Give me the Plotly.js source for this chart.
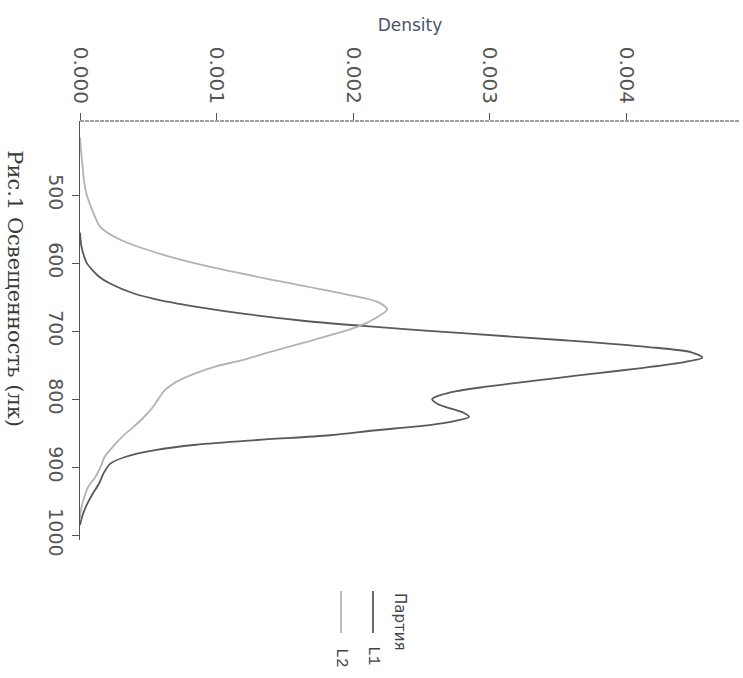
<!DOCTYPE html>
<html>
<head>
<meta charset="utf-8">
<script src="https://cdn.plot.ly/plotly-3.0.1.min.js"></script>
<style>html,body{margin:0;padding:0;background:#fff;}#chart{width:743px;height:678px;}</style>
</head>
<body>
<div id="chart"></div>
<script>
// Illuminance (lux) and density for batch L1
const luxL1 = [555, 575, 590, 600, 610, 620, 630, 645, 655, 665, 675, 685, 693, 703, 713, 723, 731, 739, 747, 755, 762, 769, 776, 782, 788, 794, 800, 807, 814, 820, 826, 832, 838, 846, 853, 860, 867, 875, 885, 895, 910, 924, 940, 955, 970, 985];
const densL1 = [0, 0.00001, 0.00003, 0.00005, 0.00009, 0.00014, 0.00022, 0.00040, 0.00060, 0.00088, 0.00122, 0.00165, 0.00212, 0.00280, 0.00352, 0.00415, 0.00448, 0.00456, 0.00438, 0.00408, 0.00378, 0.00349, 0.00320, 0.00296, 0.00276, 0.00264, 0.00258, 0.00262, 0.00272, 0.00281, 0.00285, 0.00275, 0.00256, 0.00215, 0.00183, 0.00130, 0.00085, 0.00055, 0.00033, 0.00022, 0.00017, 0.00014, 0.00009, 0.00005, 0.00002, 0];
// Illuminance (lux) and density for batch L2
const luxL2 = [415, 440, 460, 480, 500, 522, 541, 549, 566, 586, 603, 625, 645, 657, 668, 679, 693, 713, 733, 743, 752, 772, 787, 801, 815, 828, 841, 855, 870, 885, 900, 915, 929, 945, 960, 975];
const densL2 = [0, 0.00001, 0.00002, 0.00003, 0.00005, 0.00009, 0.00013, 0.00016, 0.00030, 0.00058, 0.00090, 0.00142, 0.00193, 0.00218, 0.00225, 0.00218, 0.00204, 0.00171, 0.00135, 0.00118, 0.00099, 0.00073, 0.00062, 0.00057, 0.00052, 0.00046, 0.00039, 0.00031, 0.00024, 0.00018, 0.00015, 0.00011, 0.00006, 0.00003, 0.00001, 0];

const densTicks = [0, 0.001, 0.002, 0.003, 0.004];
const densTickText = ['0.000', '0.001', '0.002', '0.003', '0.004'];
const luxTicks = [500, 600, 700, 800, 900, 1000];
const luxTickText = ['500', '600', '700', '800', '900', '1000'];
const seriesNames = ['L1', 'L2'];
const legendTitle = 'Партия';
const xTitle = 'Density';
const yTitle = 'Рис.1 Освещенность (лк)';

const colL1 = '#5a5a5a';
const colL2 = '#b3b3b3';

const traces = [
  {x: densL1, y: luxL1, type: 'scatter', mode: 'lines', name: seriesNames[0],
   line: {color: colL1, width: 1.8, shape: 'spline', smoothing: 0.8}},
  {x: densL2, y: luxL2, type: 'scatter', mode: 'lines', name: seriesNames[1],
   line: {color: colL2, width: 1.8, shape: 'spline', smoothing: 0.8}}
];

const tickFont = {family: 'DejaVu Sans, sans-serif', size: 20, color: '#555'};

const layout = {
  width: 743, height: 678,
  margin: {l: 80, r: 3, t: 121, b: 138, pad: 0},
  paper_bgcolor: '#fff', plot_bgcolor: '#fff',
  showlegend: false,
  xaxis: {
    side: 'top', range: [0, 0.004835],
    tickvals: densTicks, ticktext: densTickText, tickangle: 90,
    ticks: 'outside', ticklen: 7, tickcolor: '#555', tickwidth: 1,
    ticklabelstandoff: 2,
    showline: false,
    showgrid: false, zeroline: false, tickfont: tickFont,
    title: {text: xTitle, font: {family: 'DejaVu Sans, sans-serif', size: 17, color: '#4a5568'}, standoff: 10}
  },
  yaxis: {
    range: [1007, 391],
    tickvals: luxTicks, ticktext: luxTickText, tickangle: 90,
    ticks: 'outside', ticklen: 7, tickcolor: '#555', tickwidth: 1,
    showline: true, linecolor: '#555', linewidth: 1.2,
    showgrid: false, zeroline: false, tickfont: {family: 'DejaVu Sans, sans-serif', size: 19, color: '#555'}
  },
  annotations: [
    {text: yTitle, xref: 'paper', yref: 'paper', x: -0.098, y: 0.60, textangle: 90,
     showarrow: false, xanchor: 'center', yanchor: 'middle',
     font: {family: 'DejaVu Serif, serif', size: 21, color: '#3a3a3a'}},
    {text: legendTitle, xref: 'paper', yref: 'paper', x: 0.485, y: -0.196, textangle: 90,
     showarrow: false, xanchor: 'center', yanchor: 'middle',
     font: {family: 'DejaVu Sans, sans-serif', size: 15, color: '#444'}},
    {text: seriesNames[0], xref: 'paper', yref: 'paper', x: 0.444, y: -0.275, textangle: 90,
     showarrow: false, xanchor: 'center', yanchor: 'middle',
     font: {family: 'Liberation Mono, monospace', size: 16, color: '#444'}},
    {text: seriesNames[1], xref: 'paper', yref: 'paper', x: 0.3955, y: -0.28, textangle: 90,
     showarrow: false, xanchor: 'center', yanchor: 'middle',
     font: {family: 'Liberation Mono, monospace', size: 16, color: '#444'}}
  ],
  shapes: [
    {type: 'line', xref: 'paper', yref: 'paper', x0: 0, x1: 1, y0: 1, y1: 1,
     line: {color: '#444', width: 1.2, dash: '4px,1px'}},
    {type: 'line', xref: 'paper', yref: 'paper', x0: 0.444, x1: 0.444, y0: -0.122, y1: -0.222,
     line: {color: colL1, width: 1.8}},
    {type: 'line', xref: 'paper', yref: 'paper', x0: 0.3955, x1: 0.3955, y0: -0.122, y1: -0.222,
     line: {color: colL2, width: 1.8}}
  ]
};

Plotly.newPlot('chart', traces, layout, {displayModeBar: false, staticPlot: true});
</script>
</body>
</html>
